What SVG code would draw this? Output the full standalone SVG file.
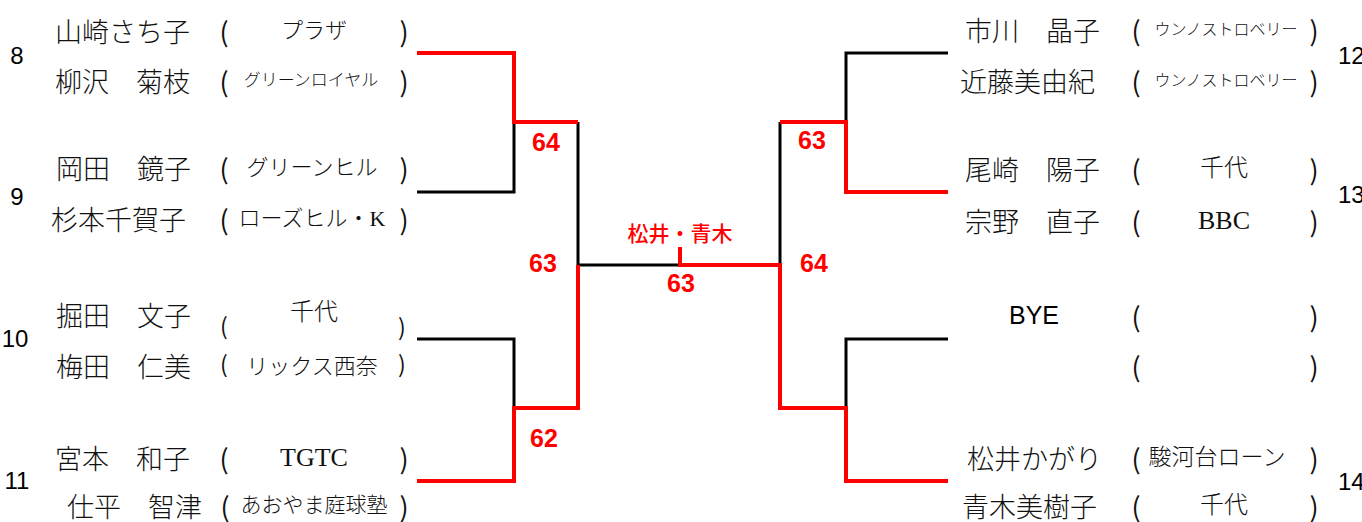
<svg xmlns="http://www.w3.org/2000/svg" width="1362" height="522" viewBox="0 0 1362 522">
<style>
text{dominant-baseline:central}
.nm{font-family:"Noto Sans CJK JP",sans-serif;font-size:27px;font-weight:300;fill:#111}
.pr{font-family:"Noto Sans CJK JP",sans-serif;font-size:27px;font-weight:400;fill:#111;text-anchor:middle}
.ps{font-size:23px}
.tm{font-family:"Liberation Serif","Noto Sans CJK JP",serif;font-weight:300;fill:#111;text-anchor:middle}
.sd{font-family:"Liberation Sans",Arial,sans-serif;font-size:24px;fill:#000}
.bye{font-family:"Liberation Sans",Arial,sans-serif;font-size:25px;fill:#000;text-anchor:middle}
.sc{font-family:"Liberation Sans",Arial,sans-serif;font-size:25px;font-weight:bold;fill:#f00;text-anchor:middle}
.win{font-family:"Noto Sans CJK JP",sans-serif;font-size:21px;font-weight:500;fill:#f00;text-anchor:middle}
.bk{fill:none;stroke:#000;stroke-width:3;stroke-linejoin:miter}
.rd{fill:none;stroke:#f00;stroke-width:4;stroke-linejoin:miter}
</style>
<rect width="1362" height="522" fill="#fff"/>
<g id="connectors">
<polyline class="bk" points="417,192 514,192 514,122"/>
<polyline class="bk" points="417,339 514,339 514,408"/>
<polyline class="bk" points="578,122 578,265 680,265"/>
<polyline class="bk" points="948,53 846,53 846,122"/>
<polyline class="bk" points="948,339 846,339 846,408"/>
<polyline class="bk" points="780,122 780,265"/>
<polyline class="rd" points="417,53 514,53 514,122 578,122"/>
<polyline class="rd" points="417,481 514,481 514,408 578,408 578,265"/>
<polyline class="rd" points="948,192 846,192 846,122 780,122"/>
<polyline class="rd" points="680,247 680,265 780,265 780,408 846,408 846,481 948,481"/>
</g>
<g id="scores">
<text class="sc" x="546" y="142">64</text>
<text class="sc" x="543" y="263">63</text>
<text class="sc" x="544" y="438">62</text>
<text class="sc" x="681" y="283">63</text>
<text class="sc" x="812" y="140">63</text>
<text class="sc" x="814" y="263">64</text>
<text class="win" x="680" y="232">松井・青木</text>
</g>
<g id="pair-8">
<text class="sd" x="17" y="55" text-anchor="middle">8</text>
<text class="nm" x="55" y="30">山崎さち子</text>
<text class="pr" x="224" y="30">(</text><text class="tm" x="314" y="30" font-size="22">プラザ</text><text class="pr" x="404" y="30">)</text>
<text class="nm" x="55" y="80">柳沢　菊枝</text>
<text class="pr" x="224" y="80">(</text><text class="tm" x="311" y="80" font-size="17">グリーンロイヤル</text><text class="pr" x="404" y="80">)</text>
</g>
<g id="pair-9">
<text class="sd" x="17" y="196" text-anchor="middle">9</text>
<text class="nm" x="56" y="167">岡田　鏡子</text>
<text class="pr" x="224" y="167">(</text><text class="tm" x="312" y="167" font-size="22">グリーンヒル</text><text class="pr" x="404" y="167">)</text>
<text class="nm" x="51" y="218">杉本千賀子</text>
<text class="pr" x="224" y="218">(</text><text class="tm" x="312" y="218" font-size="22">ローズヒル・K</text><text class="pr" x="404" y="218">)</text>
</g>
<g id="pair-10">
<text class="sd" x="15" y="338" text-anchor="middle">10</text>
<text class="nm" x="56" y="314">掘田　文子</text>
<text class="pr ps" x="224" y="325">(</text><text class="tm" x="314" y="312" font-size="24">千代</text><text class="pr ps" x="402" y="326">)</text>
<text class="nm" x="56" y="365">梅田　仁美</text>
<text class="pr ps" x="224" y="363">(</text><text class="tm" x="312" y="366" font-size="22">リックス西奈</text><text class="pr ps" x="402" y="363">)</text>
</g>
<g id="pair-11">
<text class="sd" x="17" y="480" text-anchor="middle">11</text>
<text class="nm" x="55" y="457">宮本　和子</text>
<text class="pr" x="224" y="457">(</text><text class="tm" x="314" y="457" font-size="26">TGTC</text><text class="pr" x="404" y="457">)</text>
<text class="nm" x="67" y="505">仕平　智津</text>
<text class="pr" x="225" y="505">(</text><text class="tm" x="314" y="505" font-size="21">あおやま庭球塾</text><text class="pr" x="404" y="505">)</text>
</g>
<g id="pair-12">
<text class="sd" x="1338" y="55">12</text>
<text class="nm" x="965" y="29">市川　晶子</text>
<text class="pr" x="1136" y="29">(</text><text class="tm" x="1226" y="29" font-size="16">ウンノストロベリー</text><text class="pr" x="1314" y="29">)</text>
<text class="nm" x="960" y="80">近藤美由紀</text>
<text class="pr" x="1136" y="80">(</text><text class="tm" x="1226" y="80" font-size="16">ウンノストロベリー</text><text class="pr" x="1314" y="80">)</text>
</g>
<g id="pair-13">
<text class="sd" x="1338" y="194">13</text>
<text class="nm" x="965" y="168">尾崎　陽子</text>
<text class="pr" x="1136" y="168">(</text><text class="tm" x="1224" y="168" font-size="24">千代</text><text class="pr" x="1314" y="168">)</text>
<text class="nm" x="965" y="220">宗野　直子</text>
<text class="pr" x="1136" y="220">(</text><text class="tm" x="1224" y="220" font-size="26">BBC</text><text class="pr" x="1314" y="220">)</text>
</g>
<g id="pair-bye">
<text class="bye" x="1034" y="315">BYE</text>
<text class="pr" x="1136" y="315">(</text><text class="pr" x="1314" y="315">)</text>
<text class="pr" x="1136" y="365">(</text><text class="pr" x="1314" y="365">)</text>
</g>
<g id="pair-14">
<text class="sd" x="1338" y="481">14</text>
<text class="nm" x="967" y="457">松井かがり</text>
<text class="pr" x="1136" y="457">(</text><text class="tm" x="1217" y="457" font-size="23">駿河台ローン</text><text class="pr" x="1314" y="457">)</text>
<text class="nm" x="962" y="505">青木美樹子</text>
<text class="pr" x="1136" y="505">(</text><text class="tm" x="1224" y="505" font-size="24">千代</text><text class="pr" x="1314" y="505">)</text>
</g>
</svg>
